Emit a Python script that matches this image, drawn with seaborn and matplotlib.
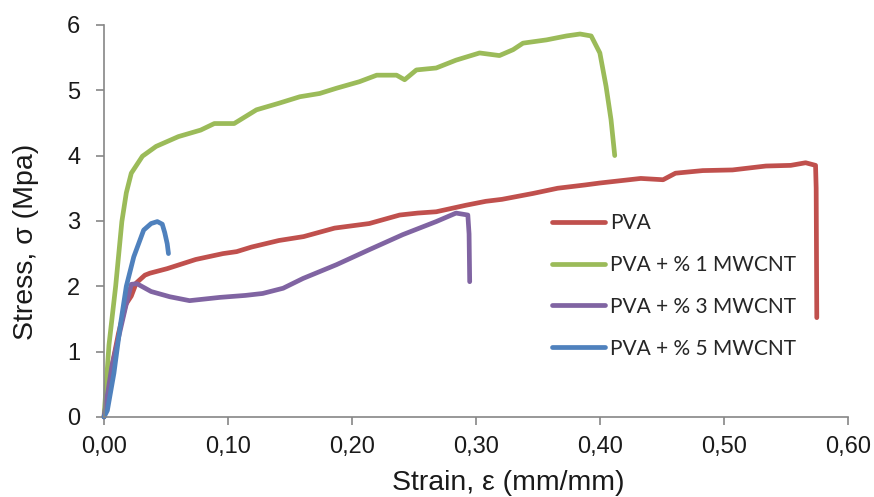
import pandas as pd
import matplotlib.pyplot as plt
import seaborn as sns

# (strain in mm/mm, stress in MPa)
pva_x = [0.0, 0.0063, 0.0117, 0.0175, 0.022, 0.026, 0.033, 0.037, 0.051, 0.074, 0.096, 0.107,
         0.119, 0.141, 0.161, 0.186, 0.214, 0.2385, 0.253, 0.268, 0.292, 0.308, 0.321, 0.346,
         0.366, 0.388, 0.400, 0.433, 0.451, 0.461, 0.483, 0.507, 0.534, 0.554, 0.566, 0.574,
         0.5745, 0.575]
pva_y = [0.0, 0.77, 1.28, 1.72, 1.85, 2.05, 2.17, 2.2, 2.27, 2.41, 2.50, 2.53,
         2.60, 2.70, 2.76, 2.89, 2.96, 3.09, 3.12, 3.14, 3.24, 3.30, 3.33, 3.42,
         3.50, 3.55, 3.58, 3.65, 3.63, 3.73, 3.77, 3.78, 3.84, 3.85, 3.89, 3.85,
         3.5, 1.52]

mw1_x = [0.0, 0.004, 0.0094, 0.0144, 0.018, 0.022, 0.031, 0.042, 0.060, 0.078, 0.089, 0.105,
         0.123, 0.141, 0.158, 0.174, 0.1875, 0.206, 0.220, 0.236, 0.2425, 0.252, 0.268,
         0.284, 0.303, 0.319, 0.330, 0.338, 0.357, 0.373, 0.384, 0.393, 0.400, 0.405,
         0.409, 0.412]
mw1_y = [0.0, 1.1, 2.0, 2.99, 3.43, 3.73, 3.99, 4.14, 4.29, 4.39, 4.49, 4.49,
         4.70, 4.80, 4.90, 4.95, 5.03, 5.13, 5.23, 5.23, 5.16, 5.31, 5.34,
         5.46, 5.57, 5.53, 5.62, 5.72, 5.77, 5.83, 5.86, 5.83, 5.57, 5.06,
         4.55, 4.0]

mw3_x = [0.0, 0.0063, 0.0175, 0.022, 0.0265, 0.038, 0.053, 0.069, 0.0935, 0.114, 0.128,
         0.1445, 0.1606, 0.1875, 0.214, 0.241, 0.268, 0.284, 0.2935, 0.2945, 0.295]
mw3_y = [0.0, 0.77, 1.69, 2.03, 2.04, 1.92, 1.84, 1.78, 1.83, 1.86, 1.89,
         1.97, 2.12, 2.33, 2.56, 2.79, 2.99, 3.12, 3.09, 2.8, 2.07]

mw5_x = [0.0, 0.0027, 0.008, 0.013, 0.018, 0.024, 0.032, 0.038, 0.043, 0.047, 0.049,
         0.051, 0.052]
mw5_y = [0.0, 0.1, 0.67, 1.38, 2.0, 2.45, 2.86, 2.96, 2.99, 2.95, 2.82, 2.65, 2.5]

labels = ["PVA", "PVA + % 1 MWCNT", "PVA + % 3 MWCNT", "PVA + % 5 MWCNT"]
colors = ["#C0504D", "#9BBB59", "#8064A2", "#4F81BD"]

x_ticks = [0.0, 0.1, 0.2, 0.3, 0.4, 0.5, 0.6]
x_ticklabels = ["0,00", "0,10", "0,20", "0,30", "0,40", "0,50", "0,60"]
y_ticks = [0, 1, 2, 3, 4, 5, 6]

frames = []
for name, xs, ys in zip(labels, [pva_x, mw1_x, mw3_x, mw5_x], [pva_y, mw1_y, mw3_y, mw5_y]):
    frames.append(pd.DataFrame({"strain": xs, "stress": ys, "sample": name}))
df = pd.concat(frames, ignore_index=True)

sns.set_style("white")
plt.rcParams["font.family"] = ["Liberation Sans", "DejaVu Sans"]

fig, ax = plt.subplots(figsize=(8.74, 4.97), dpi=100)
fig.subplots_adjust(left=0.119, right=0.970, top=0.950, bottom=0.161)

sns.lineplot(data=df, x="strain", y="stress", hue="sample", palette=colors,
             hue_order=labels, sort=False, estimator=None, linewidth=3.4,
             ax=ax, clip_on=False)

ax.set_xlim(0, 0.6)
ax.set_ylim(0, 6)
ax.set_xticks(x_ticks)
ax.set_xticklabels(x_ticklabels)
ax.set_yticks(y_ticks)
ax.set_xlabel("")
ax.set_ylabel("")

for side in ["top", "right"]:
    ax.spines[side].set_visible(False)
for side in ["left", "bottom"]:
    ax.spines[side].set_color("#868686")
    ax.spines[side].set_linewidth(1.2)

ax.tick_params(axis="both", which="major", direction="out", length=6, width=1.2,
               color="#868686", labelsize=17, labelcolor="#1a1a1a")
ax.tick_params(axis="y", pad=11)
ax.tick_params(axis="x", pad=8)
ax.tick_params(bottom=True, left=True)

fig.text(33 / 874, 0.513, "Stress, \u03c3 (Mpa)", rotation=90, rotation_mode="anchor",
         ha="center", va="baseline", fontsize=20.5, color="#1a1a1a")
fig.text(508 / 874, 7 / 497, "Strain, \u03b5 (mm/mm)", ha="center", va="baseline",
         fontsize=20.5, color="#1a1a1a")

handles, _ = ax.get_legend_handles_labels()
ax.legend(handles=handles, labels=labels, loc="upper left",
          bbox_to_anchor=(552 / 874, 1 - 213 / 497), bbox_transform=fig.transFigure,
          frameon=False, borderpad=0, borderaxespad=0, handlelength=2.55,
          handletextpad=0.25, labelspacing=1.05,
          prop={"family": ["Lato", "DejaVu Sans"], "size": 15})

plt.savefig("out.png", dpi=100)
